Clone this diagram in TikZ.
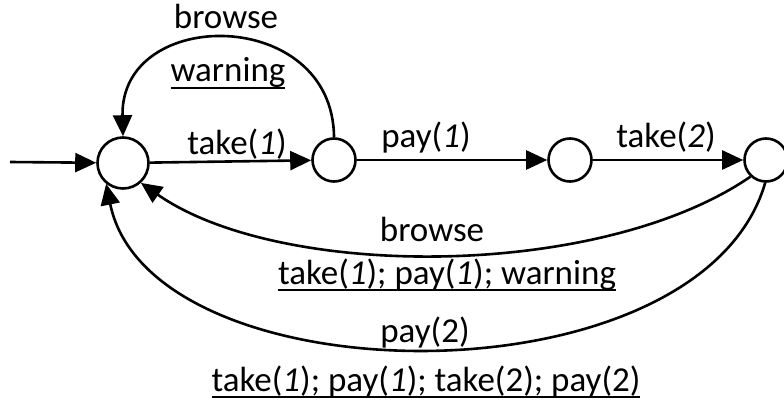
\documentclass[tikz,border=0pt]{standalone}
\usepackage{fontspec}
\setmainfont{Carlito}
\usetikzlibrary{arrows.meta}
% underline drawn as a thick rule just below the descenders
\newcommand{\thickul}[1]{\setbox0\hbox{#1}\leavevmode\rlap{\rule[-7.4pt]{\wd0}{2.2pt}}\box0}
\begin{document}
\begin{tikzpicture}[x=1pt,y=-1pt,
  state/.style={draw, circle, line width=2.6pt, inner sep=0pt, fill=white},
  bigstate/.style={state, minimum size=51pt},
  smallstate/.style={state, minimum size=43pt},
  edge/.style={line width=2.6pt, -{Triangle[length=21pt,width=19pt]}},
  lbl/.style={font=\fontsize{35}{40}\selectfont, inner sep=0pt, anchor=base}]
\useasboundingbox (0,0) rectangle (784,406);
% states
\node[bigstate]   (s0) at (123,163) {};
\node[smallstate] (s1) at (334,160) {};
\node[smallstate] (s2) at (570,160) {};
\node[smallstate] (s3) at (766,160) {};
\coordinate (init) at (10,162);
% transitions
\draw[edge] (init) -- (s0);
\draw[edge] (s0) -- (s1);
\draw[edge] (s1) -- (s2);
\draw[edge] (s2) -- (s3);
\draw[edge] (s1.north) .. controls (333,6) and (120,6) .. (s0.north);
\draw[edge] (s3.227) .. controls (600,280) and (280,280) .. (s0.-48);
\draw[edge] (s3.268) .. controls (700,407) and (150,400) .. (s0.231);
% labels
\node[lbl] (lbrowse1) at (226,29) {browse};
\node[lbl] (lwarn1) at (228,82) {\thickul{warning}};
\node[lbl] (ltake1) at (237,155) {take(\textit{1})};
\node[lbl] (lpay1) at (426,148) {pay(\textit{1})};
\node[lbl] (ltake2) at (666,148) {take(\textit{2})};
\node[lbl] (lbrowse2) at (432,241) {browse};
\node[lbl] (ltrace1) at (447,284) {\thickul{take(\textit{1}); pay(\textit{1}); warning}};
\node[lbl] (lpay2) at (425,342) {pay(2)};
\node[lbl] (ltrace2) at (426,391) {\thickul{take(\textit{1}); pay(\textit{1}); take(2); pay(2)}};
\end{tikzpicture}
\end{document}
